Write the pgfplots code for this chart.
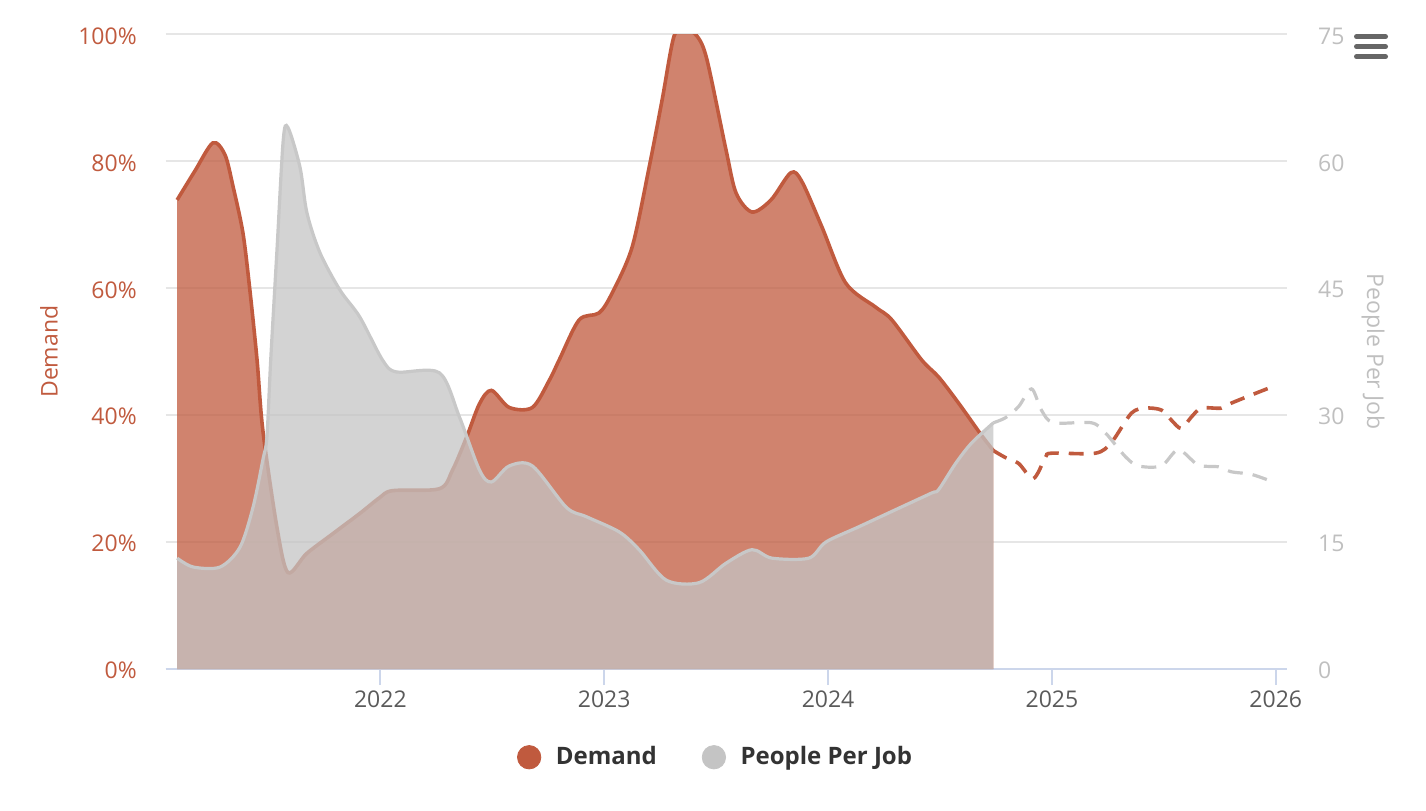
\documentclass[border=0pt]{standalone}
\usepackage{fontspec}
\setmainfont{Open Sans}
\usepackage{pgfplots}
\pgfplotsset{compat=1.18}

\definecolor{demand}{HTML}{C05A3E}
\definecolor{ppj}{HTML}{C4C4C4}
\definecolor{ppjline}{HTML}{C8C8C8}
\definecolor{gridc}{HTML}{E6E6E6}
\definecolor{axisc}{HTML}{CCD6EB}
\definecolor{xlab}{HTML}{5A5A5A}
\definecolor{rlab}{HTML}{BFBFBF}
\definecolor{legtext}{HTML}{333333}
\definecolor{menu}{HTML}{666666}

\newcommand\tickfont{\fontsize{11.5}{13}\selectfont}

\pgfplotsset{
  common/.style={
    at={(82.85pt,70.5pt)}, anchor=south west,
    scale only axis, width=560.5pt, height=317.35pt,
    xmin=2021.041, xmax=2026.049, ymin=0,
    /pgf/number format/assume math mode=true,
    /pgf/number format/1000 sep={},
  },
}

\begin{document}
\begin{tikzpicture}
\path[use as bounding box] (0,0) rectangle (713pt,405pt);

% left axis: demand
\begin{axis}[
  common, ymax=100,
  axis x line*=bottom, axis y line*=left,
  y axis line style={draw=none},
  x axis line style={draw=axisc, line width=1pt, -},
  xtick={2022,2023,2024,2025,2026},
  xtick align=outside, major tick length=8pt,
  xtick style={draw=axisc, line width=1pt},
  ytick style={draw=none},
  xticklabel style={font=\tickfont, text=xlab, anchor=north, inner sep=0pt, yshift=-2.5pt},
  ytick={0,20,40,60,80,100},
  yticklabel={\pgfmathprintnumber{\tick}\%},
  yticklabel style={font=\tickfont, text=demand, anchor=east, inner sep=0pt, xshift=-14.3pt, yshift=-0.8pt},
  ymajorgrids, grid style={gridc, line width=1pt},
  ylabel={Demand},
  every axis y label/.style={at={(axis description cs:-0.1041,0.5)}, rotate=90, anchor=center, font=\tickfont, text=demand},
]
\addplot[draw=none, fill=demand, fill opacity=0.75, smooth] coordinates {
(2021.092,73.9)(2021.172,78.5)(2021.252,82.9)(2021.306,81.0)(2021.342,76.0)(2021.386,68.7)(2021.417,59.7)(2021.449,48.7)(2021.475,37.6)(2021.538,22.3)(2021.587,15.2)(2021.671,18.2)(2021.787,21.3)(2021.908,24.5)(2021.997,27.0)(2022.055,28.1)(2022.264,28.4)(2022.322,31.3)(2022.385,36.5)(2022.443,41.8)(2022.496,43.9)(2022.576,41.2)(2022.679,41.2)(2022.755,45.5)(2022.799,48.7)(2022.888,55.0)(2022.977,56.1)(2023.035,59.2)(2023.125,66.5)(2023.201,79.1)(2023.259,89.7)(2023.312,99.7)(2023.363,100.8)(2023.415,99.7)(2023.459,96.0)(2023.544,81.8)(2023.589,75.0)(2023.660,72.0)(2023.745,73.9)(2023.834,78.2)(2023.883,76.8)(2023.972,69.7)(2024.079,60.8)(2024.213,57.0)(2024.285,55.0)(2024.418,48.7)(2024.494,46.0)(2024.583,41.9)(2024.686,36.8)(2024.739,34.4)
} \closedcycle;
\addplot[demand, line width=1.8pt, smooth] coordinates {
(2021.092,73.9)(2021.172,78.5)(2021.252,82.9)(2021.306,81.0)(2021.342,76.0)(2021.386,68.7)(2021.417,59.7)(2021.449,48.7)(2021.475,37.6)(2021.538,22.3)(2021.587,15.2)(2021.671,18.2)(2021.787,21.3)(2021.908,24.5)(2021.997,27.0)(2022.055,28.1)(2022.264,28.4)(2022.322,31.3)(2022.385,36.5)(2022.443,41.8)(2022.496,43.9)(2022.576,41.2)(2022.679,41.2)(2022.755,45.5)(2022.799,48.7)(2022.888,55.0)(2022.977,56.1)(2023.035,59.2)(2023.125,66.5)(2023.201,79.1)(2023.259,89.7)(2023.312,99.7)(2023.363,100.8)(2023.415,99.7)(2023.459,96.0)(2023.544,81.8)(2023.589,75.0)(2023.660,72.0)(2023.745,73.9)(2023.834,78.2)(2023.883,76.8)(2023.972,69.7)(2024.079,60.8)(2024.213,57.0)(2024.285,55.0)(2024.418,48.7)(2024.494,46.0)(2024.583,41.9)(2024.686,36.8)(2024.739,34.4)
};
\addplot[demand, line width=1.8pt, smooth, dash pattern=on 7.5pt off 5pt] coordinates {
(2024.739,34.4)(2024.793,33.3)(2024.851,32.4)(2024.917,30.0)(2024.971,33.3)(2024.998,34.0)(2025.194,34.0)(2025.266,35.7)(2025.355,40.3)(2025.418,41.1)(2025.489,40.8)(2025.534,39.2)(2025.578,37.9)(2025.623,39.7)(2025.668,41.1)(2025.757,41.1)(2025.802,41.9)(2025.958,44.1)(2026.0,44.6)
};
\end{axis}

% right axis: people per job
\begin{axis}[
  common, ymax=75,
  axis x line=none, axis y line*=right,
  y axis line style={draw=none},
  ytick style={draw=none},
  ytick={0,15,30,45,60,75},
  yticklabel style={font=\tickfont, text=rlab, anchor=west, inner sep=0pt, xshift=15.5pt, yshift=-0.8pt},
  ylabel={People Per Job},
  every axis y label/.style={at={(axis description cs:1.0770,0.5)}, rotate=-90, anchor=center, font=\tickfont, text=rlab},
  legend style={at={(0.4896,-0.1390)}, anchor=center, draw=none, fill=none,
    font=\fontsize{12}{14}\selectfont\bfseries, text=legtext,
    nodes={inner sep=0pt}, column sep=7.3pt,
    /tikz/every even column/.append style={column sep=22.5pt}},
  legend columns=2, legend cell align=left,
]
\addlegendimage{legend image code/.code={\fill[demand] (0pt,0pt) circle (5.85pt);}}
\addlegendentry{Demand}
\addlegendimage{legend image code/.code={\fill[ppj] (0pt,0pt) circle (5.85pt);}}
\addlegendentry{People Per Job}

\addplot[draw=none, fill=ppj, fill opacity=0.75, smooth, forget plot] coordinates {
(2021.092,13.1)(2021.164,12.05)(2021.284,12.05)(2021.373,14.4)(2021.431,19.1)(2021.475,24.7)(2021.493,27.4)(2021.510,36.5)(2021.538,49.5)(2021.566,62.5)(2021.587,64.0)(2021.641,59.3)(2021.672,53.9)(2021.730,49.2)(2021.819,44.8)(2021.908,41.6)(2022.010,36.5)(2022.072,35.1)(2022.264,35.0)(2022.353,29.8)(2022.443,23.5)(2022.496,22.1)(2022.576,24.0)(2022.679,24.0)(2022.831,19.1)(2022.920,18.0)(2023.067,16.2)(2023.156,14.1)(2023.277,10.5)(2023.424,10.2)(2023.544,12.5)(2023.660,14.1)(2023.749,13.1)(2023.914,13.1)(2023.990,15.0)(2024.137,16.8)(2024.316,19.0)(2024.463,20.8)(2024.494,21.2)(2024.570,24.3)(2024.641,26.7)(2024.739,29.1)
} \closedcycle;
\addplot[ppjline, line width=1.6pt, smooth, forget plot] coordinates {
(2021.092,13.1)(2021.164,12.05)(2021.284,12.05)(2021.373,14.4)(2021.431,19.1)(2021.475,24.7)(2021.493,27.4)(2021.510,36.5)(2021.538,49.5)(2021.566,62.5)(2021.587,64.0)(2021.641,59.3)(2021.672,53.9)(2021.730,49.2)(2021.819,44.8)(2021.908,41.6)(2022.010,36.5)(2022.072,35.1)(2022.264,35.0)(2022.353,29.8)(2022.443,23.5)(2022.496,22.1)(2022.576,24.0)(2022.679,24.0)(2022.831,19.1)(2022.920,18.0)(2023.067,16.2)(2023.156,14.1)(2023.277,10.5)(2023.424,10.2)(2023.544,12.5)(2023.660,14.1)(2023.749,13.1)(2023.914,13.1)(2023.990,15.0)(2024.137,16.8)(2024.316,19.0)(2024.463,20.8)(2024.494,21.2)(2024.570,24.3)(2024.641,26.7)(2024.739,29.1)
};
\addplot[ppjline, line width=1.6pt, smooth, dash pattern=on 7.5pt off 5pt, forget plot] coordinates {
(2024.739,29.1)(2024.793,29.7)(2024.851,31.0)(2024.909,33.1)(2024.953,30.6)(2025.007,29.1)(2025.176,29.1)(2025.239,27.9)(2025.328,25.1)(2025.386,24.0)(2025.489,24.0)(2025.565,25.9)(2025.654,24.1)(2025.743,23.9)(2025.802,23.3)(2025.891,23.0)(2025.989,22.1)
};
\end{axis}

% menu icon
\foreach \yy in {386.65pt,381.65pt,376.65pt}
  \draw[menu, line width=2.5pt, line cap=round] (678.25pt,\yy) -- (692.75pt,\yy);
\end{tikzpicture}
\end{document}
